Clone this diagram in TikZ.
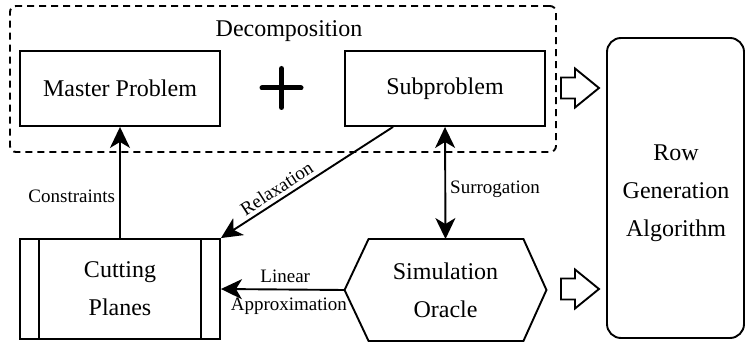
\documentclass[tikz,border=0pt]{standalone}
\usepackage{fontspec}
\setmainfont{Liberation Serif}
\usetikzlibrary{arrows.meta,calc}
\newcommand{\bigtxt}{\fontsize{24}{38}\selectfont}
\newcommand{\smalltxt}{\fontsize{19}{23}\selectfont}
\begin{document}
\begin{tikzpicture}[x=1pt,y=-1pt,
  line width=1.9pt,
  probbox/.style={draw, minimum width=200pt, minimum height=75pt, inner sep=0pt, font=\bigtxt, align=center},
  conn/.style={-{Stealth[length=21pt,width=20pt,inset=6pt]}},
  dconn/.style={{Stealth[length=21pt,width=20pt,inset=6pt]}-{Stealth[length=21pt,width=20pt,inset=6pt]}},
  lbl/.style={font=\smalltxt, inner sep=4pt},
  blockarrow/.style={line width=1.9pt, line join=miter}]
\useasboundingbox (0,0) rectangle (746,344);
% decomposition dashed box
\node[draw, dash pattern=on 7pt off 5pt, rounded corners=6pt, minimum width=546pt, minimum height=146pt, inner sep=0pt] (decomp) at (283,79) {};
\node[font=\bigtxt] (decomplbl) at (289,31) {Decomposition};
\node[probbox] (master) at (120,88.5) {Master Problem};
\node[probbox] (sub) at (445,88.5) {Subproblem};
% plus sign
\draw[line width=5pt, line cap=round] (262,88) -- (301,88) (281.5,68.5) -- (281.5,107.5);
% row generation
\node[draw, rounded corners=14pt, minimum width=137pt, minimum height=300pt, inner sep=0pt] (rowgen) at (675.5,188) {};
\node[font=\bigtxt, align=center, inner sep=0pt] (rowtxt) at (676,193) {Row\\Generation\\Algorithm};
% cutting planes
\node[probbox, minimum height=100pt] (cut) at (120,289) {Cutting\\Planes};
\draw ($(cut.north west)+(20,0)$) -- ($(cut.south west)+(20,0)$);
\draw ($(cut.north east)+(-20,0)$) -- ($(cut.south east)+(-20,0)$);
% simulation oracle
\node[minimum width=200pt, minimum height=100pt, inner sep=0pt, font=\bigtxt, align=center] (oracle) at (445.5,290) {Simulation\\Oracle};
\draw[line join=miter] (oracle.west) -- ($(oracle.north west)+(24,0)$) -- ($(oracle.north east)+(-23,0)$) -- (oracle.east) -- ($(oracle.south east)+(-23,0)$) -- ($(oracle.south west)+(24,0)$) -- cycle;
% connectors
\draw[conn] (cut.north) -- node[lbl, left, pos=0.38] {Constraints} (master.south);
\draw[conn] ($(sub.south)+(-52,0)$) -- node[lbl, above, sloped, pos=0.64] {Relaxation} (cut.north east);
\draw[dconn] (sub.south) -- node[lbl, right, pos=0.56] {Surrogation} (oracle.north);
\draw[conn] (oracle.west) -- node[lbl, above, pos=0.48, inner sep=6pt] {Linear} node[lbl, below, pos=0.45, inner sep=7pt] {Approximation} (cut.east);
% block arrows
\coordinate (ba1) at (561,88);
\coordinate (ba2) at (561,289);
\foreach \c in {ba1,ba2}{
  \draw[blockarrow] ($(\c)+(0,-10.5)$) -- ++(14,0) -- ++(0,-9) -- ++(24,19.5) -- ++(-24,19.5) -- ++(0,-9) -- ++(-14,0) -- cycle;
}
\end{tikzpicture}
\end{document}
